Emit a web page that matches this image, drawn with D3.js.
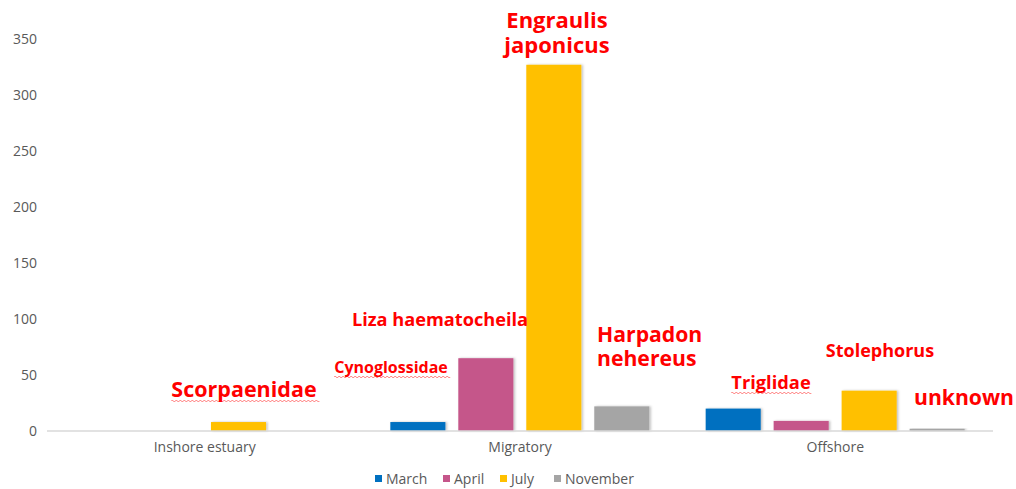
<!DOCTYPE html>
<html><head><meta charset="utf-8">
<script src="https://cdn.jsdelivr.net/npm/d3@7"></script>
<style>body{margin:0;background:#fff;}svg{display:block;}</style>
</head><body><svg id="c" width="1016" height="489"></svg>
<script>
const categories = ["Inshore estuary", "Migratory", "Offshore"];
const seriesNames = ["March", "April", "July", "November"];
const march = [0, 8, 20];
const april = [0, 65, 9];
const july = [8, 327, 36];
const november = [0, 22, 2];
const yTicks = [0, 50, 100, 150, 200, 250, 300, 350];
const colors = ["#0070C0", "#C5568A", "#FFC000", "#A5A5A5"];
const labels = [
  {lines: ["Scorpaenidae"], size: 21.5, x: 244, y: 397, anchor: "middle", wavy: true},
  {lines: ["Cynoglossidae"], size: 16, x: 391, y: 373, anchor: "middle", wavy: true},
  {lines: ["Liza haematocheila"], size: 18.2, x: 440, y: 326, anchor: "middle", wavy: false},
  {lines: ["Engraulis", "japonicus"], size: 22, x: 557, y: 28, anchor: "middle", wavy: false},
  {lines: ["Harpadon", "nehereus"], size: 21.2, x: 597, y: 342, anchor: "start", wavy: false},
  {lines: ["Triglidae"], size: 18.3, x: 771, y: 389, anchor: "middle", wavy: true},
  {lines: ["Stolephorus"], size: 18, x: 880, y: 357, anchor: "middle", wavy: false},
  {lines: ["unknown"], size: 21.2, x: 964, y: 405, anchor: "middle", wavy: false}
];

const series = [march, april, july, november];
const svg = d3.select("#c");
const x0 = d3.scaleBand().domain(categories).range([47, 993]);
const x1 = d3.scaleBand().domain(seriesNames).range([28, 287]).paddingInner(0.19);
const y = d3.scaleLinear().domain([0, 350]).range([431, 39]);
const axisFont = "'Open Sans', sans-serif";

const yAxis = svg.append("g").attr("transform", "translate(37,0)")
  .call(d3.axisLeft(y).tickValues(yTicks).tickSize(0).tickPadding(0));
yAxis.select(".domain").remove();
yAxis.selectAll("text").attr("fill", "#595959").style("font-family", axisFont).style("font-size", "14px");

const defs = svg.append("defs");
const f = defs.append("filter").attr("id", "sh").attr("x", "-20%").attr("y", "-20%").attr("width", "150%").attr("height", "150%");
f.append("feDropShadow").attr("dx", 1.5).attr("dy", 0).attr("stdDeviation", 1.2).attr("flood-color", "#000").attr("flood-opacity", 0.25);

const g = svg.append("g");
categories.forEach((c, ci) => {
  seriesNames.forEach((s, si) => {
    const v = series[si][ci];
    if (v <= 0) return;
    g.append("rect")
      .attr("x", x0(c) + x1(s))
      .attr("y", y(v))
      .attr("width", x1.bandwidth())
      .attr("height", y(0) - y(v))
      .attr("fill", colors[si])
      .attr("filter", "url(#sh)");
  });
});

const xAxis = svg.append("g").attr("transform", `translate(0,${y(0)})`)
  .call(d3.axisBottom(x0).tickSize(0).tickPadding(11));
xAxis.select(".domain").attr("stroke", "#D9D9D9").attr("stroke-width", 1.3).attr("d", `M47,0H993`);
xAxis.selectAll("text").attr("fill", "#595959").style("font-family", axisFont).style("font-size", "14px");

const legendX = [375, 443, 500, 554];
const lg = svg.append("g").style("font-family", axisFont).style("font-size", "14px");
seriesNames.forEach((s, i) => {
  lg.append("rect").attr("x", legendX[i]).attr("y", 475).attr("width", 7).attr("height", 7).attr("fill", colors[i]);
  lg.append("text").attr("x", legendX[i] + 11).attr("y", 484).attr("fill", "#595959").text(s);
});

const ag = svg.append("g").style("font-family", "'Open Sans', sans-serif").style("font-weight", "bold");
labels.forEach(l => {
  const t = ag.append("text").attr("text-anchor", l.anchor).attr("fill", "#FF0000").style("font-size", l.size + "px");
  l.lines.forEach((ln, i) => {
    t.append("tspan").attr("x", l.x).attr("y", l.y + i * l.size * 1.15).text(ln);
  });
  if (l.wavy) {
    const bb = t.node().getBBox();
    const yy = l.y + 4;
    let d = `M${bb.x},${yy}`;
    for (let xx = bb.x; xx < bb.x + bb.width; xx += 4) {
      d += ` q1,-2 2,0 q1,2 2,0`;
    }
    ag.append("path").attr("d", d).attr("fill", "none").attr("stroke", "#FF0000").attr("stroke-width", 0.7).attr("opacity", 0.7);
  }
});
</script></body></html>
